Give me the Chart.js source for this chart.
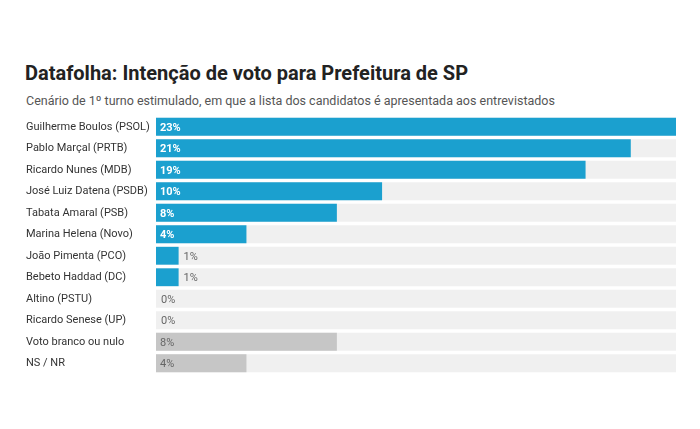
<!DOCTYPE html>
<html>
<head>
<meta charset="utf-8">
<script src="https://cdn.jsdelivr.net/npm/chart.js@4"></script>
<style>
  body { margin: 0; background: #fff; font-family: Roboto, sans-serif; }
  #wrap { position: relative; width: 700px; height: 429px; }
  h1 { position: absolute; left: 25px; top: 61px; margin: 0; font-size: 20px; font-weight: 700; color: #222; }
  p { position: absolute; left: 26px; top: 93px; margin: 0; font-size: 12.5px; color: #555; }
  canvas { position: absolute; left: 0; top: 0; }
</style>
</head>
<body>
<div id="wrap">
  <h1>Datafolha: Intenção de voto para Prefeitura de SP</h1>
  <p>Cenário de 1º turno estimulado, em que a lista dos candidatos é apresentada aos entrevistados</p>
  <canvas id="chart" width="700" height="429"></canvas>
</div>
<script>
"use strict"

// dados
const candidatos = [
  "Guilherme Boulos (PSOL)", "Pablo Marçal (PRTB)", "Ricardo Nunes (MDB)",
  "José Luiz Datena (PSDB)", "Tabata Amaral (PSB)", "Marina Helena (Novo)",
  "João Pimenta (PCO)", "Bebeto Haddad (DC)", "Altino (PSTU)",
  "Ricardo Senese (UP)", "Voto branco ou nulo", "NS / NR"
];
const votos = [23, 21, 19, 10, 8, 4, 1, 1, 0, 0, 8, 4];
const maximo = 23;
const cores = votos.map((v, i) => i < 10 ? '#1ba0cf' : '#c6c6c6');

// rótulos de porcentagem
const rotulos = {
  id: 'rotulos',
  afterDatasetsDraw(chart) {
    const ctx = chart.ctx;
    const meta = chart.getDatasetMeta(1);
    ctx.save();
    ctx.textBaseline = 'middle';
    meta.data.forEach((bar, i) => {
      const txt = votos[i] + '%';
      const w = bar.x - bar.base;
      ctx.font = '11px Roboto';
      ctx.fillStyle = '#666';
      let x = bar.base + 4;
      if (i < 10 && w > 30) {
        ctx.font = 'bold 11px Roboto';
        ctx.fillStyle = '#fff';
      } else if (i < 10) {
        x = bar.x + 5;
      }
      ctx.fillText(txt, x, bar.y + 1);
    });
    ctx.restore();
  }
};

new Chart(document.getElementById('chart'), {
  type: 'bar',
  data: {
    labels: candidatos,
    datasets: [{
      data: candidatos.map(() => maximo), //fundo cinza
      backgroundColor: '#f0f0f0',
      grouped: false,
      order: 2,
      barPercentage: 0.83,
      categoryPercentage: 1
    }, {
      data: votos,
      backgroundColor: cores,
      grouped: false,
      order: 1,
      barPercentage: 0.83,
      categoryPercentage: 1
    }]
  },
  options: {
    indexAxis: 'y',
    responsive: false,
    animation: false,
    layout: { padding: { left: 26, right: 24, top: 116, bottom: 55 } },
    plugins: { legend: { display: false }, tooltip: { enabled: false } },
    scales: {
      x: { display: false, min: 0, max: maximo },
      y: {
        grid: { display: false },
        border: { display: false },
        ticks: { crossAlign: 'far', color: '#333', font: { family: 'Roboto', size: 11 } },
        afterFit(scale) { scale.width = 130; }
      }
    }
  },
  plugins: [rotulos]
});
</script>
</body>
</html>
